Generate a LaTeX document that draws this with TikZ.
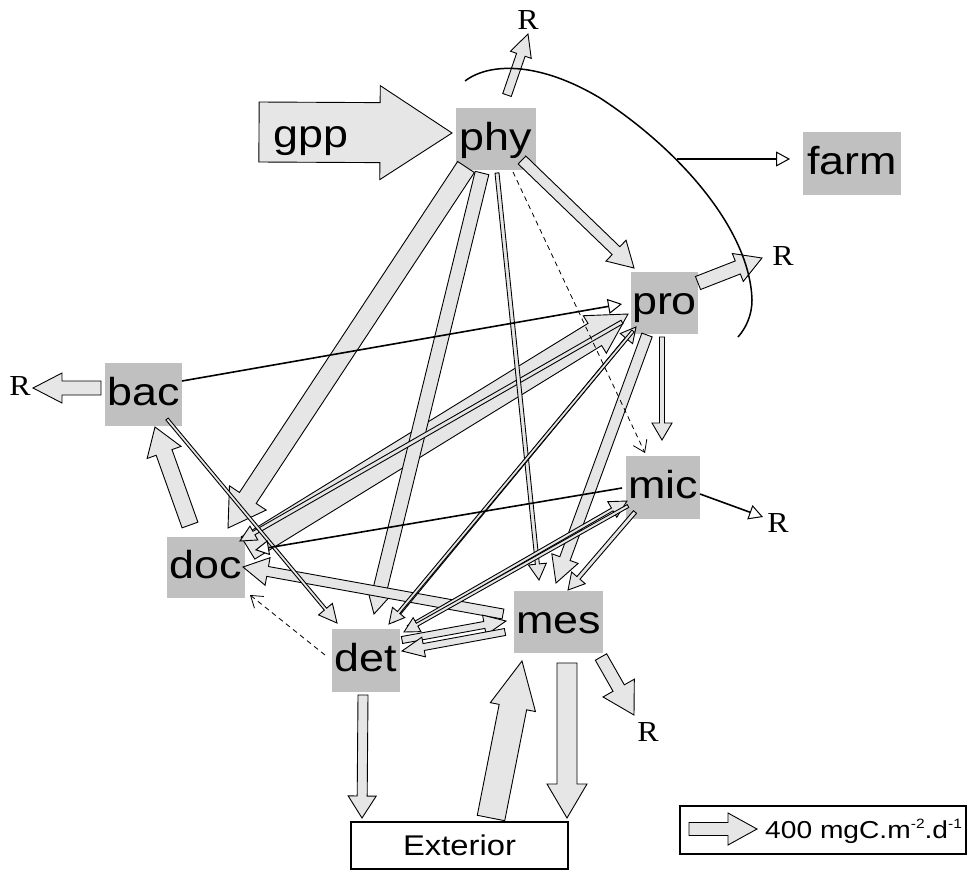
\documentclass[tikz,border=0pt]{standalone}
\usepackage{fontspec}
\setmainfont[FakeStretch=1.15]{Liberation Sans}
\newfontfamily\rfont[FakeStretch=1.1]{Liberation Serif}
\usetikzlibrary{calc,arrows.meta}
\definecolor{boxgray}{RGB}{192,192,192}
\definecolor{arrfill}{RGB}{230,230,230}
% block arrow: [opts]{from}{to}{shaft half width}{head half width}{head length}
\newcommand\bArrow[6][]{%
  \draw[blockarr,#1] ($(#2)!#4pt!90:(#3)$) -- ($(#3)!#6pt!(#2)!#4pt!-90:(#2)$)
    -- ($(#3)!#6pt!(#2)!#5pt!-90:(#2)$) -- (#3) -- ($(#3)!#6pt!(#2)!#5pt!90:(#2)$)
    -- ($(#3)!#6pt!(#2)!#4pt!90:(#2)$) -- ($(#2)!#4pt!-90:(#3)$) -- cycle;}
\newcommand\supx[1]{\raisebox{0.42em}{\fontsize{13.5}{16}\selectfont #1}}
\tikzset{
  nbox/.style={fill=boxgray, inner sep=0pt, font=\fontsize{39}{44}\selectfont, text height=30pt, text depth=8pt},
  blockarr/.style={draw=black, fill=arrfill, line width=0.9pt, line join=miter},
  linearr/.style={draw=black, line width=1.6pt, -{Triangle[length=14pt,width=15pt,fill=white,line width=1pt]}},
  dasharr/.style={draw=black, line width=0.8pt, dash pattern=on 5pt off 4pt, -{Straight Barb[length=11pt,width=15pt,line width=0.8pt]}},
  rlab/.style={font=\rfont\fontsize{29}{32}\selectfont, inner sep=0pt},
  framebox/.style={draw=black, line width=1.3pt, fill=white, inner sep=0pt},
}
\begin{document}
\begin{tikzpicture}[x=1pt,y=-1pt]
\useasboundingbox (0,0) rectangle (968,870);
\fill[white] (0,0) rectangle (968,870);

% ---------- compartments ----------
\node[nbox, minimum width=80pt, minimum height=62pt] (phy) at (496,139) {phy};
\node[nbox, minimum width=98pt, minimum height=63pt] (farm) at (852,163.5) {farm};
\node[nbox, minimum width=67pt, minimum height=62pt] (pro) at (664.5,303) {pro};
\node[nbox, minimum width=77pt, minimum height=63pt] (bac) at (143.5,394.5) {bac};
\node[nbox, minimum width=78pt, minimum height=61pt] (doc) at (206,567.5) {doc};
\node[nbox, minimum width=74pt, minimum height=63pt] (mic) at (663,487.5) {mic};
\node[nbox, minimum width=68pt, minimum height=63pt] (det) at (366,660.5) {det};
\node[nbox, minimum width=89pt, minimum height=62pt] (mes) at (558.5,622) {mes};
\node[framebox, minimum width=217pt, minimum height=47pt, font=\fontsize{28.5}{31}\selectfont] (ext) at (459.5,845.5) {Exterior};
\node[framebox, minimum width=286pt, minimum height=48pt] (legend) at (823,830) {};

% ---------- R labels ----------
\node[rlab] (R1) at (528,20) {R};
\node[rlab] (R2) at (783,256) {R};
\node[rlab] (R3) at (20,386) {R};
\node[rlab] (R4) at (778,523) {R};
\node[rlab] (R5) at (648,732) {R};

% ---------- connector end points ----------
\coordinate (gppT) at (259,132);   \coordinate (gppH) at (452,133);
\coordinate (phR-a) at (507,95);   \coordinate (phR-b) at (528,34);
\coordinate (phdoc-a) at (466,167); \coordinate (phdoc-b) at (228,528);
\coordinate (phdet-a) at (482,173); \coordinate (phdet-b) at (374,614);
\coordinate (phmes-a) at (497,173); \coordinate (phmes-b) at (539,580);
\coordinate (phmic-a) at (513,172); \coordinate (phmic-b) at (645,453);
\coordinate (phpro-a) at (522,160); \coordinate (phpro-b) at (634,268);
\coordinate (prR-a) at (698,283);   \coordinate (prR-b) at (762,258);
\coordinate (prmic-a) at (662,337); \coordinate (prmic-b) at (662,440);
\coordinate (prmes-a) at (647,335); \coordinate (prmes-b) at (556,583);
\coordinate (docpr-a) at (248,548); \coordinate (docpr-b) at (628,314);
\coordinate (prdoc-a) at (622,322); \coordinate (prdoc-b) at (240,541);
\coordinate (bapr-a) at (182,381);  \coordinate (bapr-b) at (622,304);
\coordinate (badet-a) at (167,419); \coordinate (badet-b) at (337,623);
\coordinate (baR-a) at (101,388);   \coordinate (baR-b) at (33,388);
\coordinate (docba-a) at (190,525); \coordinate (docba-b) at (155,427);
\coordinate (mesdoc-a) at (503,614); \coordinate (mesdoc-b) at (243,567);
\coordinate (detdoc-a) at (325,655); \coordinate (detdoc-b) at (250,595);
\coordinate (micdoc-a) at (622,488); \coordinate (micdoc-b) at (255,550);
\coordinate (micR-a) at (700,494);  \coordinate (micR-b) at (763,517);
\coordinate (micmes-a) at (635,512); \coordinate (micmes-b) at (568,590);
\coordinate (detmic-a) at (408,627); \coordinate (detmic-b) at (627,501);
\coordinate (micdet-a) at (628,506); \coordinate (micdet-b) at (404,632);
\coordinate (detpr-a) at (393,621); \coordinate (detpr-b) at (636,327);
\coordinate (prdet-a) at (633,331); \coordinate (prdet-b) at (389,624);
\coordinate (detmes-a) at (402,640); \coordinate (detmes-b) at (506,621);
\coordinate (mesdet-a) at (505,632); \coordinate (mesdet-b) at (402,651);
\coordinate (detext-a) at (363,695); \coordinate (detext-b) at (362,818);
\coordinate (extmes-a) at (491,818); \coordinate (extmes-b) at (522,661);
\coordinate (mesext-a) at (567,663); \coordinate (mesext-b) at (567,818);
\coordinate (mesR-a) at (601,657);  \coordinate (mesR-b) at (634,715);
\coordinate (farm-a) at (677,159);  \coordinate (farm-b) at (790,159);
\coordinate (leg-a) at (689,829);   \coordinate (leg-b) at (757,829);

% ---------- wide flows ----------
\bArrow{gppT}{gppH}{30}{47}{72}
\node[font=\fontsize{39}{44}\selectfont, text height=30pt, text depth=8pt, inner sep=0pt] (gpp) at (311,136) {gpp};
\bArrow{phdoc-a}{phdoc-b}{10}{22}{36}
\bArrow{docpr-a}{docpr-b}{13}{22}{39}
\bArrow{phdet-a}{phdet-b}{7}{13}{24}
\bArrow{phpro-a}{phpro-b}{5.5}{14.5}{25}
\bArrow{prmes-a}{prmes-b}{5.5}{14}{26}
\bArrow{mesdoc-a}{mesdoc-b}{5}{14}{25}
\bArrow{docba-a}{docba-b}{8.4}{18}{27}
\bArrow{baR-a}{baR-b}{7}{15}{29}
\bArrow{phR-a}{phR-b}{4.5}{11}{22}
\bArrow{prR-a}{prR-b}{7}{15}{26}
\bArrow{mesR-a}{mesR-b}{6.5}{18}{31}
\bArrow{detext-a}{detext-b}{5}{14}{22}
\bArrow{extmes-a}{extmes-b}{14}{23}{47}
\bArrow{mesext-a}{mesext-b}{10}{20}{34}
\bArrow{detmes-a}{detmes-b}{3.5}{10}{22}
\bArrow{mesdet-a}{mesdet-b}{3.5}{10}{22}

% ---------- narrow flows ----------
\bArrow{prdoc-a}{prdoc-b}{2}{8}{16}
\bArrow{phmes-a}{phmes-b}{2}{9}{16}
\bArrow{prmic-a}{prmic-b}{2.5}{10}{17}
\bArrow{micmes-a}{micmes-b}{2}{9}{16}
\bArrow{badet-a}{badet-b}{1.5}{9}{18}
\bArrow{detmic-a}{detmic-b}{1.6}{9}{17}
\bArrow{micdet-a}{micdet-b}{1.6}{8}{15}
\bArrow{detpr-a}{detpr-b}{1.5}{8}{15}
\bArrow{prdet-a}{prdet-b}{1.5}{8}{15}

% ---------- line flows ----------
\draw[linearr] (bapr-a) -- (bapr-b);
\draw[linearr] (micdoc-a) -- (micdoc-b);
\draw[linearr] (micR-a) -- (micR-b);
\draw[dasharr] (phmic-a) -- (phmic-b);
\draw[dasharr] (detdoc-a) -- (detdoc-b);

% ---------- farm filtration ----------
\draw[line width=1.5pt] (465,81) .. controls (490,62) and (540,62) .. (600,98)
  .. controls (680,150) and (750,230) .. (752,300)
  .. controls (752,315) and (746,328) .. (738,337);
\draw[linearr] (farm-a) -- (farm-b);

% ---------- legend ----------
\bArrow{leg-a}{leg-b}{6.5}{16}{29}
\node[anchor=west, inner sep=0pt, font=\fontsize{24.5}{27}\selectfont] (legtxt) at (765,831) {400 mgC.m\supx{-2}.d\supx{-1}};
\end{tikzpicture}
\end{document}
